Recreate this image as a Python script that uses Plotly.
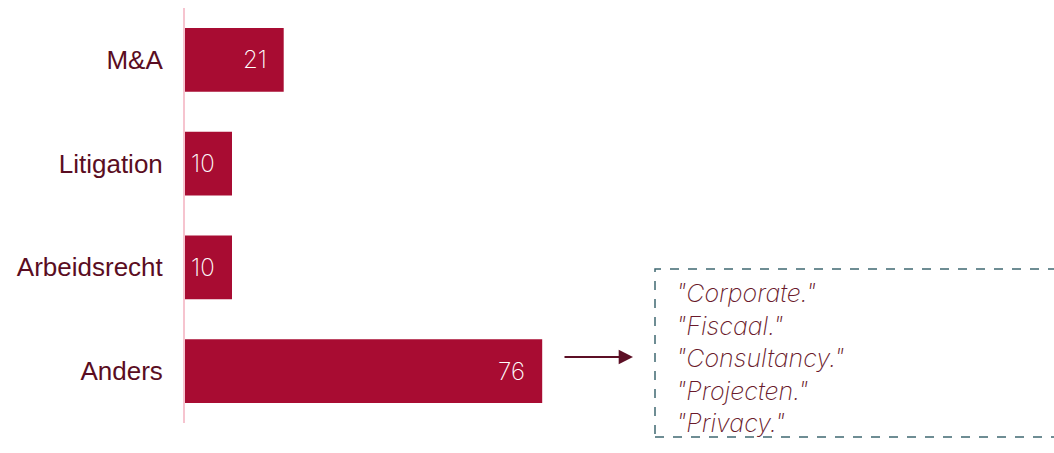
import plotly.graph_objects as go

# Aantal zaken per rechtsgebied
categories = ["M&A", "Litigation", "Arbeidsrecht", "Anders"]
values = [21, 10, 10, 76]
other_areas = ['"Corporate."', '"Fiscaal."', '"Consultancy."', '"Projecten."', '"Privacy."']

BAR = "#a80c32"
LABEL = "#5a0d22"
THIN = "Inter, Open Sans, sans-serif"
W, H = 1054, 453
L, T, B = 185, 8, 30
plot_w = W - L
plot_h = H - T - B
px_per_unit = 4.70


def px(x):
    return (x - L) / plot_w


def py(y):
    return (H - B - y) / plot_h


fig = go.Figure(
    go.Bar(
        x=values,
        y=categories,
        orientation="h",
        marker=dict(color=BAR, line=dict(width=0)),
        width=0.615,
        hoverinfo="x+y",
    )
)

# Waardelabels rechts binnen de balken
for cat, val in zip(categories, values):
    fig.add_annotation(
        x=val, y=cat, xref="x", yref="y",
        text=str(val), showarrow=False,
        xanchor="right", xshift=-15,
        font=dict(family=THIN, size=24, color="white", weight=200),
    )

fig.update_layout(
    width=W,
    height=H,
    margin=dict(l=L, r=0, t=T, b=B, pad=0),
    plot_bgcolor="white",
    paper_bgcolor="white",
    showlegend=False,
    xaxis=dict(range=[0, plot_w / px_per_unit], visible=False, fixedrange=True),
    yaxis=dict(
        categoryorder="array",
        categoryarray=categories[::-1],
        showline=True,
        linecolor="#f6c4cf",
        linewidth=2,
        ticks="",
        ticklabelstandoff=15,
        tickfont=dict(family="Liberation Sans, Arial, sans-serif", size=26, color=LABEL),
        showgrid=False,
        zeroline=False,
    ),
)

# Pijl naar de toelichting bij "Anders"
fig.add_annotation(
    xref="paper", yref="paper",
    x=px(633), y=py(357),
    ax=-70, ay=0,
    showarrow=True, arrowhead=2, arrowsize=1.3, arrowwidth=2.2,
    arrowcolor="#5c0f25", text="",
)

# Gestippeld kader met de overige rechtsgebieden
fig.add_shape(
    type="rect", xref="paper", yref="paper",
    x0=px(655), x1=px(1060), y0=py(437), y1=py(269),
    line=dict(color="#3f6872", width=1.5, dash="dash"),
    fillcolor="rgba(0,0,0,0)",
)
fig.add_annotation(
    xref="paper", yref="paper",
    x=px(674), y=py(276), xanchor="left", yanchor="top",
    text="<i>" + "<br>".join(other_areas) + "</i>",
    showarrow=False, align="left",
    font=dict(family=THIN, size=25, color="#6a1a2c", weight=200),
)

fig.write_html("out.html")
